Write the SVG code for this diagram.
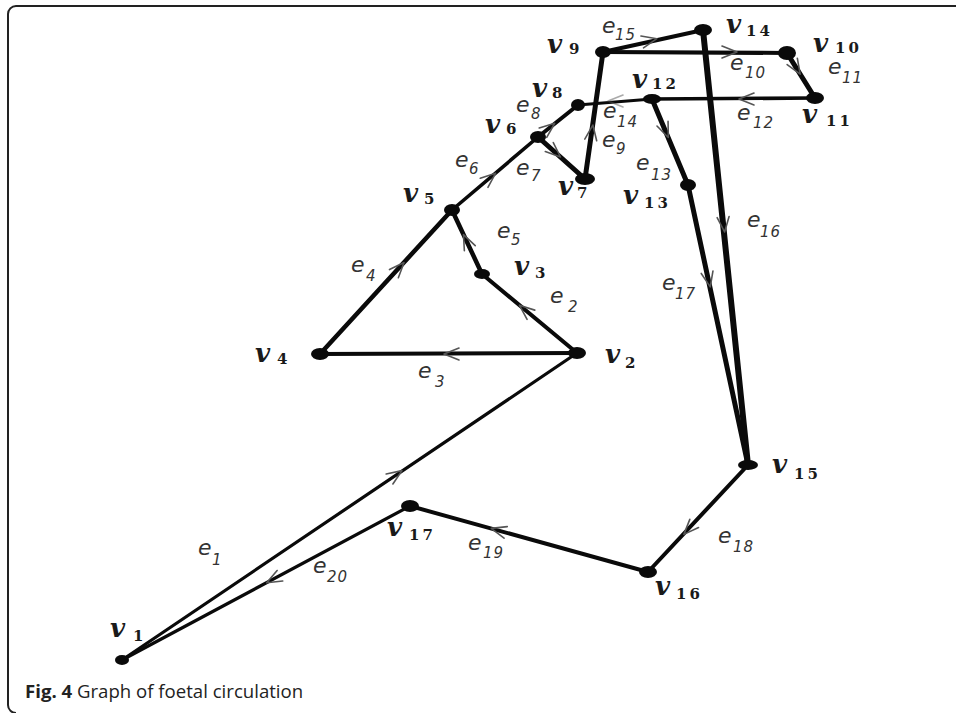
<svg xmlns="http://www.w3.org/2000/svg" xmlns:xlink="http://www.w3.org/1999/xlink" width="956" height="713" viewBox="0 0 956 713">
<style>
.frame{fill:none;stroke:#222;stroke-width:2}
.ed{stroke:#0a0a0a;stroke-linecap:round;fill:none}
.ch{fill:none;stroke:#555;stroke-width:1.6;stroke-linecap:round;stroke-linejoin:round}
.nd{fill:#0a0a0a}
.vl{font-family:"DejaVu Serif",serif;font-style:italic;font-weight:bold;font-size:26px;fill:#1a1a1a}
.vs{font-family:"DejaVu Serif",serif;font-style:normal;font-weight:bold;font-size:15px;letter-spacing:3px;fill:#1a1a1a}
.el{font-family:"DejaVu Sans",sans-serif;font-style:italic;font-size:22px;fill:#333}
.es{font-family:"DejaVu Sans",sans-serif;font-style:italic;font-size:15px;letter-spacing:1px;fill:#333}
.cap{font-family:"Open Sans",sans-serif;font-size:18.6px;fill:#222}
</style>
<defs>
<path id="ch" class="ch" d="M-9,-6 L6,0 L-9,6"/>
</defs>
<rect width="956" height="713" fill="#fff"/>
<path class="frame" d="M956,6 H16 A8,8 0 0 0 8,14 V705 A8,8 0 0 0 16,713"/>

<g id="connectors">
<line id="e1" class="ed" x1="122" y1="660" x2="577" y2="353" stroke-width="3.2"/>
<line id="e20" class="ed" x1="410" y1="506" x2="122" y2="660" stroke-width="3.2"/>
<line id="e2" class="ed" x1="577" y1="353" x2="482" y2="274" stroke-width="4"/>
<line id="e3" class="ed" x1="577" y1="353" x2="320" y2="354" stroke-width="4"/>
<line id="e4" class="ed" x1="320" y1="354" x2="452" y2="210" stroke-width="4.5"/>
<line id="e5" class="ed" x1="482" y1="274" x2="452" y2="210" stroke-width="4.5"/>
<line id="e6" class="ed" x1="452" y1="210" x2="538" y2="137" stroke-width="3.6"/>
<line id="e7" class="ed" x1="538" y1="137" x2="585" y2="179" stroke-width="5"/>
<line id="e8" class="ed" x1="538" y1="137" x2="578" y2="105" stroke-width="4"/>
<line id="e9" class="ed" x1="603" y1="52" x2="585" y2="179" stroke-width="5"/>
<line id="e14" class="ed" x1="652" y1="99" x2="578" y2="105" stroke-width="3"/>
<line id="e15" class="ed" x1="603" y1="52" x2="703" y2="30" stroke-width="4"/>
<line id="e10" class="ed" x1="603" y1="52" x2="787" y2="53" stroke-width="4"/>
<line id="e11" class="ed" x1="787" y1="53" x2="815" y2="98" stroke-width="5"/>
<line id="e12" class="ed" x1="815" y1="98" x2="652" y2="99" stroke-width="3.6"/>
<line id="e13" class="ed" x1="652" y1="99" x2="688" y2="185" stroke-width="5"/>
<line id="e16" class="ed" x1="703" y1="30" x2="748" y2="465" stroke-width="6"/>
<line id="e17" class="ed" x1="688" y1="185" x2="748" y2="465" stroke-width="5"/>
<line id="e18" class="ed" x1="748" y1="465" x2="648" y2="572" stroke-width="4"/>
<line id="e19" class="ed" x1="648" y1="572" x2="410" y2="506" stroke-width="4"/>

<use xlink:href="#ch" href="#ch" transform="translate(397,474) rotate(-34)"/>
<use xlink:href="#ch" href="#ch" transform="translate(272,580) rotate(152)"/>
<use xlink:href="#ch" href="#ch" transform="translate(497,530) rotate(195.5)"/>
<use xlink:href="#ch" href="#ch" transform="translate(688,530) rotate(133.3)"/>
<use xlink:href="#ch" href="#ch" transform="translate(724,226) rotate(84.4)"/>
<use xlink:href="#ch" href="#ch" transform="translate(709,281) rotate(77.9)"/>
<use xlink:href="#ch" href="#ch" transform="translate(666,132) rotate(67.3)"/>
<use xlink:href="#ch" href="#ch" transform="translate(745,99) rotate(180)"/>
<use xlink:href="#ch" href="#ch" transform="translate(731,52) rotate(0)"/>
<use xlink:href="#ch" href="#ch" transform="translate(797,69) rotate(58)"/>
<use xlink:href="#ch" href="#ch" transform="translate(651,40) rotate(-12.4)"/>
<use xlink:href="#ch" href="#ch" transform="translate(550,127) rotate(-38.7)"/>
<use xlink:href="#ch" href="#ch" transform="translate(491,177) rotate(-39.9)"/>
<use xlink:href="#ch" href="#ch" transform="translate(556,153) rotate(41.8)"/>
<use xlink:href="#ch" href="#ch" transform="translate(592,131) rotate(-81.9)"/>
<use xlink:href="#ch" href="#ch" transform="translate(614,101) rotate(180)" opacity="0.5"/>
<use xlink:href="#ch" href="#ch" transform="translate(466,240) rotate(-115)"/>
<use xlink:href="#ch" href="#ch" transform="translate(400,267) rotate(-47.5)"/>
<use xlink:href="#ch" href="#ch" transform="translate(524,309) rotate(-140.3)"/>
<use xlink:href="#ch" href="#ch" transform="translate(450,354) rotate(180)"/>

<text class="el" x="602" y="33">e<tspan class="es" x="615" y="40">15</tspan></text>
<text class="el" x="730" y="70">e<tspan class="es" x="745" y="78">10</tspan></text>
<text class="el" x="828" y="74">e<tspan class="es" x="842" y="83">11</tspan></text>
<text class="el" x="737" y="120">e<tspan class="es" x="753" y="128">12</tspan></text>
<text class="el" x="603" y="118">e<tspan class="es" x="617" y="127">14</tspan></text>
<text class="el" x="516" y="112">e<tspan class="es" x="531" y="119">8</tspan></text>
<text class="el" x="602" y="147">e<tspan class="es" x="616" y="154">9</tspan></text>
<text class="el" x="636" y="170">e<tspan class="es" x="651" y="180">13</tspan></text>
<text class="el" x="455" y="167">e<tspan class="es" x="469" y="174">6</tspan></text>
<text class="el" x="516" y="175">e<tspan class="es" x="531" y="181">7</tspan></text>
<text class="el" x="497" y="238">e<tspan class="es" x="511" y="245">5</tspan></text>
<text class="el" x="747" y="227">e<tspan class="es" x="760" y="237">16</tspan></text>
<text class="el" x="662" y="290">e<tspan class="es" x="675" y="299">17</tspan></text>
<text class="el" x="351" y="272">e<tspan class="es" x="366" y="281">4</tspan></text>
<text class="el" x="550" y="303">e<tspan class="es" x="568" y="312">2</tspan></text>
<text class="el" x="418" y="378">e<tspan class="es" x="435" y="387">3</tspan></text>
<text class="el" x="198" y="555">e<tspan class="es" x="212" y="565">1</tspan></text>
<text class="el" x="313" y="573">e<tspan class="es" x="327" y="582">20</tspan></text>
<text class="el" x="468" y="550">e<tspan class="es" x="483" y="558">19</tspan></text>
<text class="el" x="718" y="543">e<tspan class="es" x="733" y="552">18</tspan></text>
</g>

<g id="v1"><ellipse class="nd" cx="122" cy="660" rx="7" ry="5"/><text class="vl" x="110" y="637">v<tspan class="vs" x="133" y="641">1</tspan></text></g>
<g id="v2"><ellipse class="nd" cx="577" cy="353" rx="9" ry="6"/><text class="vl" x="605" y="363">v<tspan class="vs" x="625" y="368">2</tspan></text></g>
<g id="v3"><ellipse class="nd" cx="482" cy="274" rx="8" ry="5"/><text class="vl" x="514" y="275">v<tspan class="vs" x="535" y="278">3</tspan></text></g>
<g id="v4"><ellipse class="nd" cx="320" cy="354" rx="9" ry="6"/><text class="vl" x="255" y="362">v<tspan class="vs" x="277" y="364">4</tspan></text></g>
<g id="v5"><ellipse class="nd" cx="452" cy="210" rx="8" ry="6"/><text class="vl" x="403" y="202">v<tspan class="vs" x="424" y="204">5</tspan></text></g>
<g id="v6"><ellipse class="nd" cx="538" cy="137" rx="8" ry="6"/><text class="vl" x="485" y="133">v<tspan class="vs" x="506" y="134">6</tspan></text></g>
<g id="v7"><ellipse class="nd" cx="585" cy="179" rx="10" ry="6"/><text class="vl" x="558" y="195">v<tspan class="vs" x="577" y="198">7</tspan></text></g>
<g id="v8"><ellipse class="nd" cx="578" cy="105" rx="7" ry="6"/><text class="vl" x="532" y="97">v<tspan class="vs" x="552" y="98">8</tspan></text></g>
<g id="v9"><ellipse class="nd" cx="603" cy="52" rx="8" ry="6"/><text class="vl" x="547" y="53">v<tspan class="vs" x="569" y="54">9</tspan></text></g>
<g id="v10"><ellipse class="nd" cx="787" cy="53" rx="9" ry="7"/><text class="vl" x="813" y="52">v<tspan class="vs" x="835" y="53">10</tspan></text></g>
<g id="v11"><ellipse class="nd" cx="815" cy="98" rx="9" ry="6"/><text class="vl" x="802" y="123">v<tspan class="vs" x="826" y="126">11</tspan></text></g>
<g id="v12"><ellipse class="nd" cx="652" cy="99" rx="9" ry="5"/><text class="vl" x="632" y="88">v<tspan class="vs" x="652" y="89">12</tspan></text></g>
<g id="v13"><ellipse class="nd" cx="688" cy="185" rx="8" ry="6"/><text class="vl" x="623" y="204">v<tspan class="vs" x="644" y="208">13</tspan></text></g>
<g id="v14"><ellipse class="nd" cx="703" cy="30" rx="9" ry="6"/><text class="vl" x="726" y="33">v<tspan class="vs" x="746" y="36">14</tspan></text></g>
<g id="v15"><ellipse class="nd" cx="748" cy="465" rx="10" ry="5"/><text class="vl" x="772" y="473">v<tspan class="vs" x="794" y="479">15</tspan></text></g>
<g id="v16"><ellipse class="nd" cx="648" cy="572" rx="9" ry="6"/><text class="vl" x="655" y="595">v<tspan class="vs" x="676" y="599">16</tspan></text></g>
<g id="v17"><ellipse class="nd" cx="410" cy="506" rx="9" ry="6"/><text class="vl" x="387" y="536">v<tspan class="vs" x="409" y="540">17</tspan></text></g>

<text class="cap" x="25" y="698"><tspan font-weight="bold">Fig. 4</tspan> Graph of foetal circulation</text>
</svg>
